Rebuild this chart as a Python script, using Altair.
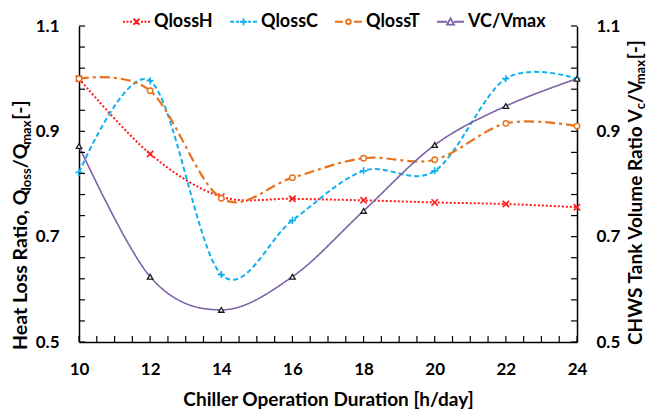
import altair as alt
import pandas as pd

# ---------------- data ----------------
hours = [10, 12, 14, 16, 18, 20, 22, 24]
qloss_h = [1.000, 0.857, 0.776, 0.772, 0.769, 0.765, 0.762, 0.756]
qloss_c = [0.822, 0.996, 0.628, 0.731, 0.825, 0.825, 1.000, 1.000]
qloss_t = [1.000, 0.977, 0.773, 0.812, 0.849, 0.846, 0.915, 0.910]
vc_vmax = [0.872, 0.624, 0.561, 0.624, 0.749, 0.874, 0.948, 1.000]

series_names = ["QlossH", "QlossC", "QlossT", "VC/Vmax"]
series_values = [qloss_h, qloss_c, qloss_t, vc_vmax]

y_labels = [0.5, 0.7, 0.9, 1.1]
x_labels = [10, 12, 14, 16, 18, 20, 22, 24]
y_minor = [0.5 + 0.04 * i for i in range(16)]
x_minor = [10 + 0.5 * i for i in range(29)]

rows = []
for name, vals in zip(series_names, series_values):
    for h, v in zip(hours, vals):
        rows.append({"hour": h, "value": v, "series": name})
df = pd.DataFrame(rows)

# ---------------- styles ----------------
colors = ["#FF1A1A", "#12B1EE", "#E8721C", "#7E62A6"]
dashes = [[2, 2], [5, 3], [10, 4, 3, 4], [1, 0]]
widths = [2, 2, 2.2, 1.6]
FONT = "Lato"
W, H = 498, 316

xscale = alt.Scale(domain=[10, 24], nice=False, zero=False)
yscale = alt.Scale(domain=[0.5, 1.1], nice=False, zero=False)

lab = dict(labelFont=FONT, labelFontWeight="bold", labelFontSize=17, labelColor="black",
           domainColor="black", domainWidth=1.5, ticks=False, grid=False, labelFlush=False)
x_axis = alt.Axis(values=x_labels, labelPadding=19, title="Chiller Operation Duration [h/day]",
                  titleFont=FONT, titleFontWeight="bold", titleFontSize=19, titleColor="black",
                  titleBaseline="alphabetic", titleY=63, **lab)
left_axis = alt.Axis(values=y_labels, format=".1f", orient="left", labelPadding=20, title=None, **lab)
right_axis = alt.Axis(values=y_labels, format=".1f", orient="right", labelPadding=19, title=None, **lab)

X = alt.X("hour:Q", scale=xscale, axis=x_axis)
Xn = alt.X("hour:Q", scale=xscale, axis=None)
Yl = alt.Y("value:Q", scale=yscale, axis=left_axis)
Yn = alt.Y("value:Q", scale=yscale, axis=None)

layers = []
# lines
for i, (name, c, d, w) in enumerate(zip(series_names, colors, dashes, widths)):
    layers.append(
        alt.Chart(df).transform_filter(alt.datum.series == name)
        .mark_line(interpolate="cardinal", tension=0, color=c, strokeDash=d, strokeWidth=w)
        .encode(x=X if i == 0 else Xn, y=Yl if i == 0 else Yn)
    )

# markers
marker_specs = [
    dict(shape="M-1,-1L1,1M-1,1L1,-1", size=40, stroke="#FF1A1A", fill="transparent", strokeWidth=1.6),
    dict(shape="M-1,0L1,0M0,-1L0,1", size=50, stroke="#12B1EE", fill="transparent", strokeWidth=1.6),
    dict(shape="circle", size=30, stroke="#E8721C", fill="white", strokeWidth=1.4),
    dict(shape="triangle-up", size=30, stroke="#1a1a1a", fill="white", strokeWidth=1.3),
]
for name, spec in zip(series_names, marker_specs):
    layers.append(
        alt.Chart(df).transform_filter(alt.datum.series == name)
        .mark_point(filled=False, opacity=1, **spec)
        .encode(x=Xn, y=Yn)
    )

# legend symbols: line + marker drawn as custom paths (unit = 13.5 px)
R = 13.5
def seg(a, b):
    return f"M{a / R:.3f},0L{b / R:.3f},0"
def mirror(segs):
    out = []
    for a, b in segs:
        out.append(seg(a, b))
        out.append(seg(-b, -a))
    return "".join(out)
u = lambda v: f"{v / R:.3f}"
path_h = mirror([(-13.5, -11.5), (-10, -8), (-6.5, -4.5)]) + \
    f"M{u(-3)},{u(-3)}L{u(3)},{u(3)}M{u(-3)},{u(3)}L{u(3)},{u(-3)}"
path_c = mirror([(-13.5, -9.5), (-7.5, -4.5)]) + \
    f"M{u(-3.5)},0L{u(3.5)},0M0,{u(-3.5)}L0,{u(3.5)}"
path_t = mirror([(-13.5, -5.5)]) + \
    f"M{u(2.3)},0A{u(2.3)},{u(2.3)} 0 1,1 {u(-2.3)},0A{u(2.3)},{u(2.3)} 0 1,1 {u(2.3)},0Z"
path_v = mirror([(-13.5, -3.5)]) + \
    f"M0,{u(-3.5)}L{u(3.5)},{u(2.8)}L{u(-3.5)},{u(2.8)}Z"
legend_paths = [path_h, path_c, path_t, path_v]

leg = alt.Legend(orient="none", legendX=43, legendY=-19, direction="horizontal", title=None,
                 labelFont=FONT, labelFontWeight="bold", labelFontSize=18, labelColor="black",
                 symbolSize=729, symbolStrokeWidth=1.8, symbolFillColor="transparent",
                 labelOffset=3, columnPadding=13, padding=0)
layers.append(
    alt.Chart(df).transform_filter("false")
    .mark_point(filled=False, size=729, opacity=1, strokeWidth=1.8)
    .encode(x=Xn, y=Yn,
            color=alt.Color("series:N", scale=alt.Scale(domain=series_names, range=colors), legend=leg),
            shape=alt.Shape("series:N", scale=alt.Scale(domain=series_names, range=legend_paths), legend=leg))
)

# inward tick marks
ydf = pd.DataFrame({"value": y_minor})
xdf = pd.DataFrame({"hour": x_minor})
layers.append(alt.Chart(ydf).mark_rule(color="black", strokeWidth=1.2)
              .encode(y=Yn, x=alt.value(0), x2=alt.value(6)))
layers.append(alt.Chart(ydf).mark_rule(color="black", strokeWidth=1.2)
              .encode(y=alt.Y("value:Q", scale=yscale, axis=right_axis), x=alt.value(W - 6), x2=alt.value(W)))
layers.append(alt.Chart(xdf).mark_rule(color="black", strokeWidth=1.2)
              .encode(x=Xn, y=alt.value(H - 6), y2=alt.value(H)))

# rotated axis titles with subscripts
LATO_B = {" ": 0.2, "H": 0.755, "e": 0.545, "a": 0.52, "t": 0.37, "L": 0.515, "o": 0.575, "s": 0.44,
          "R": 0.655, "i": 0.26, ",": 0.24, "Q": 0.80, "l": 0.26, "/": 0.40, "m": 0.875, "x": 0.53,
          "[": 0.33, "-": 0.36, "]": 0.33, "C": 0.685, "W": 1.04, "S": 0.52, "T": 0.58, "n": 0.58,
          "k": 0.54, "V": 0.58, "u": 0.58, "c": 0.48, "r": 0.385}
def tw(s, size):
    return sum(LATO_B.get(ch, 0.55) for ch in s) * size

one = pd.DataFrame({"a": [0]})
def rotated_title(pieces, ax, ay):
    out = []
    off = 0.0
    for txt, size, sub, adj in pieces:
        off += adj
        out.append(alt.Chart(one).mark_text(text=txt, angle=270, align="left", baseline="alphabetic",
                                            font=FONT, fontWeight="bold", fontSize=size, color="black",
                                            dx=off, dy=sub)
                   .encode(x=alt.value(ax), y=alt.value(ay)))
        off += tw(txt, size)
    return out

layers += rotated_title([("Heat Loss Ratio, Q", 19.5, 0, 0), ("loss", 13, 4, 0), ("/Q", 19.5, 0, 0),
                         ("max", 13, 4, 0), (" [-]", 19.5, 0, 0)], -52, 324)
layers += rotated_title([("CHWS Tank Volume  Ratio V", 19, 0, 0), ("c", 13, 3, -3.5), ("/V", 19, 0, 0),
                         ("max", 13, 3, 0), (" [-]", 19, 0, 0)], 563, 319)

chart = (
    alt.layer(*layers)
    .resolve_axis(x="independent", y="independent")
    .properties(width=W, height=H,
                padding={"left": 79, "top": 26, "right": 651 - 79 - W, "bottom": 410 - 26 - H},
                autosize=alt.AutoSizeParams(type="none"), background="white")
    .configure_view(stroke=None)
)

chart.save("out.html", embed_options={"renderer": "svg", "actions": False})
